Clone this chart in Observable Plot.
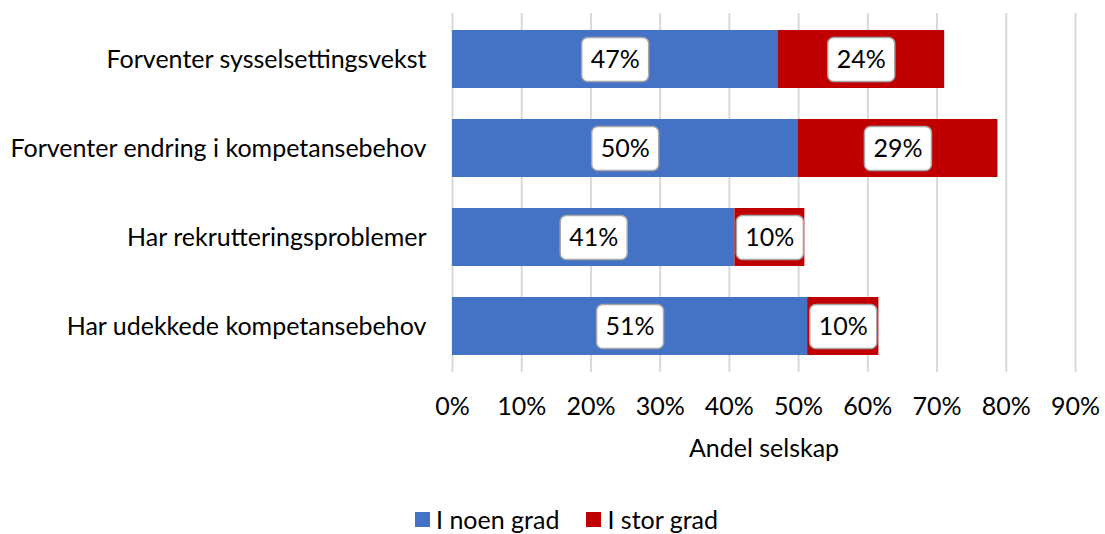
<!DOCTYPE html>
<html>
<head>
<meta charset="utf-8">
<script src="https://cdn.jsdelivr.net/npm/d3@7"></script>
<script src="https://cdn.jsdelivr.net/npm/@observablehq/plot@0.6"></script>
<style>
  html, body { margin: 0; padding: 0; background: #fff; }
  #wrap { position: relative; width: 1105px; height: 534px; }
  #legend { position: absolute; left: 415px; top: 504px; display: flex; align-items: center;
            font-family: Lato, "Open Sans", sans-serif; font-size: 25px; color: #000; }
  .sw { width: 15px; height: 15px; display: inline-block; margin-right: 6px; }
  .item { display: flex; align-items: center; margin-right: 27px; }
</style>
</head>
<body>
<div id="wrap"><div id="chart"></div>
<div id="legend"></div></div>
<script>
const categories = [
  "Forventer sysselsettingsvekst",
  "Forventer endring i kompetansebehov",
  "Har rekrutteringsproblemer",
  "Har udekkede kompetansebehov"
];
const series = ["I noen grad", "I stor grad"];
const noenGrad = [47.0, 49.9, 40.8, 51.3];
const storGrad = [24.1, 28.9, 10.1, 10.3];
const xTicks = [0, 10, 20, 30, 40, 50, 60, 70, 80, 90];
const colors = ["#4472C4", "#C00000"];

const data = [];
categories.forEach((c, i) => {
  data.push({cat: c, series: series[0], value: noenGrad[i]});
  data.push({cat: c, series: series[1], value: storGrad[i]});
});

const FONT = "Lato, 'Open Sans', sans-serif";
const FS = 25;

// rounded-rectangle symbol of fixed pixel size for the data-label boxes
const boxSymbol = {
  draw(ctx) {
    const w = 67, h = 44, r = 6;
    const x0 = -w / 2, y0 = -h / 2, x1 = w / 2, y1 = h / 2;
    ctx.moveTo(x0 + r, y0);
    ctx.lineTo(x1 - r, y0);
    ctx.arcTo(x1, y0, x1, y0 + r, r);
    ctx.lineTo(x1, y1 - r);
    ctx.arcTo(x1, y1, x1 - r, y1, r);
    ctx.lineTo(x0 + r, y1);
    ctx.arcTo(x0, y1, x0, y1 - r, r);
    ctx.lineTo(x0, y0 + r);
    ctx.arcTo(x0, y0, x0 + r, y0, r);
    ctx.closePath();
  }
};

const chart = Plot.plot({
  width: 1105,
  height: 500,
  marginTop: 13,
  marginBottom: 128,
  marginLeft: 452,
  marginRight: 30,
  style: {fontFamily: FONT, fontSize: FS + "px", color: "#000", background: "#fff"},
  x: {domain: [0, 90], ticks: xTicks},
  y: {domain: categories, paddingInner: 0.343, paddingOuter: 0.1715},
  color: {domain: series, range: colors},
  marks: [
    Plot.gridX(xTicks, {stroke: "#d9d9d9", strokeOpacity: 1, strokeWidth: 2}),
    Plot.axisX(xTicks, {tickSize: 0, tickPadding: 25, tickFormat: d => d + "%",
      fontSize: FS, label: "Andel selskap", labelAnchor: "center", labelArrow: "none", labelOffset: 84}),
    Plot.axisY({tickSize: 0, tickPadding: 26, fontSize: FS, label: null}),
    Plot.barX(data, Plot.stackX({x: "value", y: "cat", z: "series", fill: "series", order: series})),
    Plot.dot(data, Plot.stackX({x: "value", y: "cat", z: "series", order: series, symbol: boxSymbol, r: 10,
      fill: "white", stroke: "#a6a6a6", strokeWidth: 1.5})),
    Plot.text(data, Plot.stackX({x: "value", y: "cat", z: "series", order: series,
      text: d => Math.round(d.value) + "%", fontSize: FS, fill: "#000"}))
  ]
});
document.getElementById("chart").appendChild(chart);

const legend = document.getElementById("legend");
series.forEach((s, i) => {
  const item = document.createElement("div");
  item.className = "item";
  const sw = document.createElement("span");
  sw.className = "sw";
  sw.style.background = colors[i];
  const t = document.createElement("span");
  t.textContent = s;
  item.appendChild(sw);
  item.appendChild(t);
  legend.appendChild(item);
});
</script>
</body>
</html>
